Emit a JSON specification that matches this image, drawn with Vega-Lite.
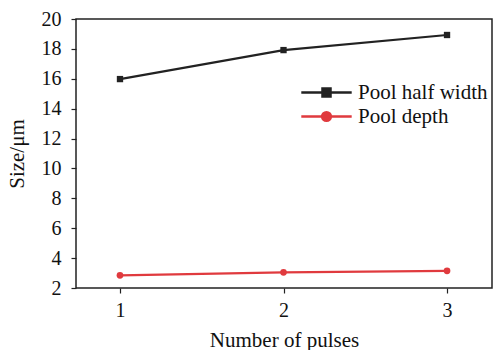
{
  "$schema": "https://vega.github.io/schema/vega-lite/v6.json",
  "width": 416,
  "height": 269,
  "autosize": {"type": "none"},
  "padding": {"left": 76, "top": 19, "right": 1, "bottom": 62},
  "background": "white",
  "config": {
    "font": "Liberation Serif",
    "view": {"stroke": "#222", "strokeWidth": 1.5},
    "axis": {
      "labelFont": "Liberation Serif",
      "titleFont": "Liberation Serif",
      "labelFontSize": 20,
      "titleFontSize": 21,
      "titleFontWeight": "normal",
      "labelColor": "#111",
      "titleColor": "#111",
      "grid": false,
      "domain": false,
      "tickColor": "#222",
      "tickSize": 5,
      "tickWidth": 1.2
    }
  },
  "data": {
    "values": [
      {"pulses": 1, "size": 15.98, "series": "Pool half width"},
      {"pulses": 2, "size": 17.92, "series": "Pool half width"},
      {"pulses": 3, "size": 18.93, "series": "Pool half width"},
      {"pulses": 1, "size": 2.85, "series": "Pool depth"},
      {"pulses": 2, "size": 3.05, "series": "Pool depth"},
      {"pulses": 3, "size": 3.15, "series": "Pool depth"}
    ]
  },
  "encoding": {
    "x": {
      "field": "pulses",
      "type": "quantitative",
      "scale": {"domain": [0.731, 3.275], "nice": false, "zero": false},
      "axis": {"values": [1, 2, 3], "title": "Number of pulses", "labelPadding": 7, "titlePadding": 9}
    },
    "y": {
      "field": "size",
      "type": "quantitative",
      "scale": {"domain": [2, 20], "nice": false, "zero": false},
      "axis": {"values": [2, 4, 6, 8, 10, 12, 14, 16, 18, 20], "title": "Size/μm", "labelPadding": 10, "titlePadding": 14}
    }
  },
  "layer": [
    {
      "mark": {"type": "line", "strokeWidth": 2.2},
      "encoding": {
        "color": {
          "field": "series",
          "type": "nominal",
          "scale": {"domain": ["Pool half width", "Pool depth"], "range": ["#222222", "#e03a3e"]},
          "legend": {
            "title": null,
            "orient": "none",
            "legendX": 237,
            "legendY": 60,
            "padding": 0,
            "labelFont": "Liberation Serif",
            "labelFontSize": 21,
            "labelColor": "#111",
            "symbolSize": 576,
            "symbolStrokeWidth": 2.6,
            "rowPadding": 0,
            "labelOffset": 18,
            "encode": {
              "symbols": {
                "update": {
                  "shape": {"signal": "datum.value == 'Pool half width' ? 'M-2.1,0H2.1M-0.33,-0.33H0.33V0.33H-0.33Z' : 'M-2.1,0H2.1M-0.36,0A0.36,0.36 0 1,0 0.36,0A0.36,0.36 0 1,0 -0.36,0Z'"},
                  "fill": {"signal": "datum.value == 'Pool half width' ? '#222222' : '#e03a3e'"},
                  "fillOpacity": {"value": 1}
                }
              }
            }
          }
        }
      }
    },
    {
      "transform": [{"filter": "datum.series == 'Pool half width'"}],
      "mark": {"type": "point", "filled": true, "opacity": 1, "size": 40, "shape": "square", "color": "#222222"}
    },
    {
      "transform": [{"filter": "datum.series == 'Pool depth'"}],
      "mark": {"type": "point", "filled": true, "opacity": 1, "size": 45, "shape": "circle", "color": "#e03a3e"}
    }
  ]
}
